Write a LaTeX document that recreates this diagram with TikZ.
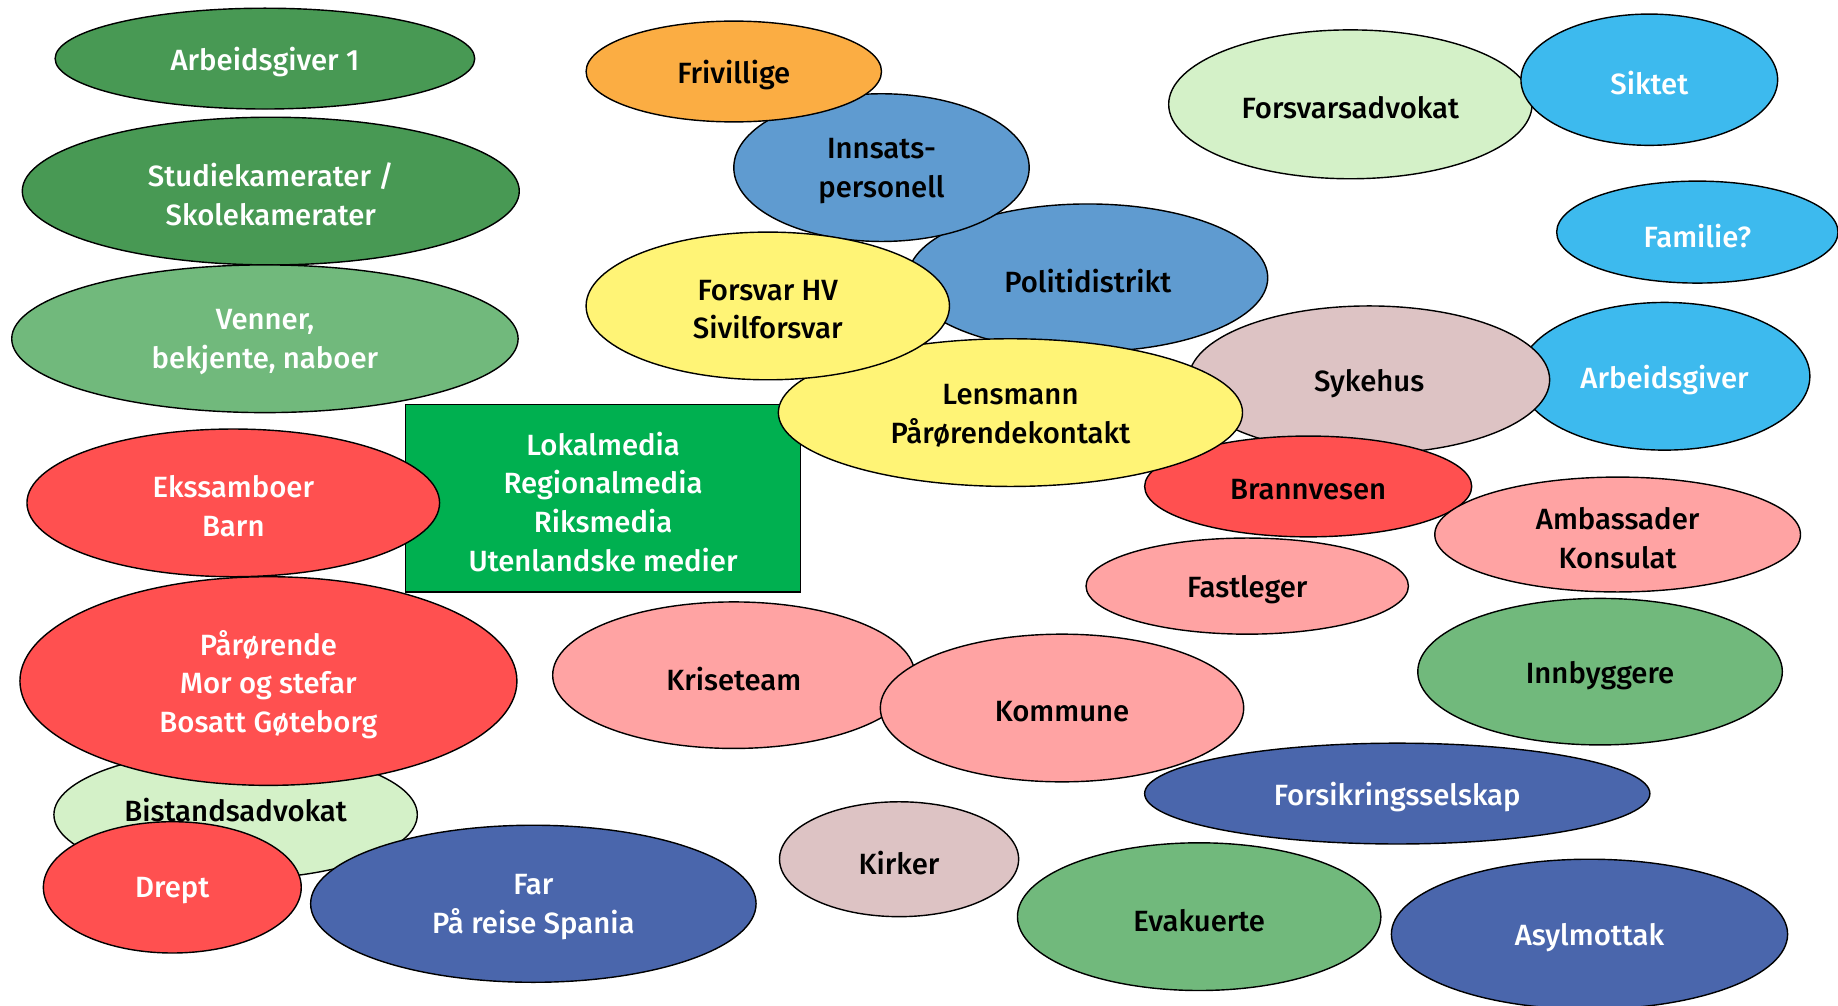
\documentclass[tikz,border=0pt]{standalone}
\usepackage{fontspec}
\setmainfont{Fira Sans}[UprightFont={* Medium}]
\usetikzlibrary{shapes.geometric}
\definecolor{dkgreen}{RGB}{72,153,84}
\definecolor{ltgreen}{RGB}{113,185,124}
\definecolor{redc}{RGB}{255,80,80}
\definecolor{palegreen}{RGB}{212,241,200}
\definecolor{dkblue}{RGB}{74,102,172}
\definecolor{midblue}{RGB}{95,155,208}
\definecolor{orangec}{RGB}{251,173,67}
\definecolor{yellowc}{RGB}{255,244,118}
\definecolor{cyanc}{RGB}{61,186,238}
\definecolor{rosec}{RGB}{221,195,196}
\definecolor{pinkc}{RGB}{255,163,163}
\definecolor{mediagreen}{RGB}{0,176,80}
\tikzset{
  ell/.style={ellipse, draw=black, line width=1.2pt, inner sep=0pt},
  lbl/.style={align=center, inner sep=0pt, font=\fontsize{25}{33}\selectfont},
  wt/.style={text=white},
  bk/.style={text=black},
}
\newcommand{\E}[7]{\node[ell,fill=#5,minimum width=#3pt,minimum height=#4pt] (#1) at (#2) {};
  \node[lbl,#6] (#1-t) at ([yshift=-3pt]#1.center) {#7};}
\begin{document}
\begin{tikzpicture}[x=1pt,y=-1pt]
\useasboundingbox (0,0) rectangle (1568,858);
% left column
\E{arb1}{226,50}{358}{86}{dkgreen}{wt}{Arbeidsgiver 1}
\E{studie}{231,163}{424}{126}{dkgreen}{wt}{Studiekamerater /\\Skolekamerater}
\E{venner}{226,289}{432}{126}{ltgreen}{wt}{Venner,\\bekjente, naboer}
% media rectangle
\node[draw=black, line width=1.2pt, fill=mediagreen,
  minimum width=337pt, minimum height=160pt, inner sep=0pt] (media) at (514.5,425) {};
\node[lbl, text=white] (media-t) at ([yshift=-3pt]media.center) {Lokalmedia\\Regionalmedia\\Riksmedia\\Utenlandske medier};
\E{eks}{199,429}{352}{126}{redc}{wt}{Ekssamboer\\Barn}
\node[ell,fill=palegreen,minimum width=310pt,minimum height=110pt] (bist) at (201,695) {};
\node[lbl,bk] (bist-t) at ([yshift=4pt]bist.center) {Bistandsadvokat};
\E{paar}{229,581}{424}{178}{redc}{wt}{Pårørende\\Mor og stefar\\Bosatt Gøteborg}
\E{drept}{147,757}{220}{112}{redc}{wt}{Drept}
\E{far}{455,771}{380}{134}{dkblue}{wt}{Far\\På reise Spania}
% centre top cluster
\E{politi}{928,237}{307}{126}{midblue}{bk}{Politidistrikt}
\E{innsats}{752,143}{252}{126}{midblue}{bk}{Innsats-\\personell}
\E{friv}{626,61}{252}{86}{orangec}{bk}{Frivillige}
\E{arbr}{1420,321}{248}{126}{cyanc}{wt}{Arbeidsgiver}
\E{syke}{1168,324}{308}{126}{rosec}{bk}{Sykehus}
\E{brann}{1116,415}{279}{86}{redc}{bk}{Brannvesen}
\E{amb}{1380,456}{312}{98}{pinkc}{bk}{Ambassader\\Konsulat}
\E{lens}{862,352}{396}{126}{yellowc}{bk}{Lensmann\\Pårørendekontakt}
\E{forsvar}{655,261}{310}{126}{yellowc}{bk}{Forsvar HV\\Sivilforsvar}
% right top
\E{fadv}{1152,89}{310}{127}{palegreen}{bk}{Forsvarsadvokat}
\E{siktet}{1407,68}{219}{112}{cyanc}{wt}{Siktet}
\E{familie}{1448,198}{240}{87}{cyanc}{wt}{Familie?}
% lower
\E{fast}{1064,500}{275}{82}{pinkc}{bk}{Fastleger}
\E{krise}{626,576}{309}{125}{pinkc}{bk}{Kriseteam}
\E{kommune}{906,604}{310}{126}{pinkc}{bk}{Kommune}
\E{innb}{1365,573}{311}{125}{ltgreen}{bk}{Innbyggere}
\E{fors}{1192,677}{431}{86}{dkblue}{wt}{Forsikringsselskap}
\E{kirker}{767,733}{204}{98}{rosec}{bk}{Kirker}
\E{evak}{1023,782}{310}{126}{ltgreen}{bk}{Evakuerte}
\E{asyl}{1356,797}{338}{128}{dkblue}{wt}{Asylmottak}
\end{tikzpicture}
\end{document}
